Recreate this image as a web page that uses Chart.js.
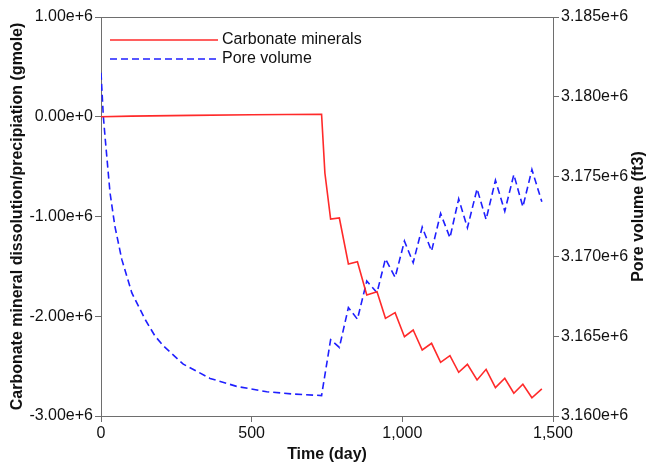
<!DOCTYPE html>
<html>
<head>
<meta charset="utf-8">
<script src="https://cdn.jsdelivr.net/npm/chart.js@4"></script>
<style>
  html, body { margin: 0; padding: 0; background: #fff; }
  #wrap { width: 648px; height: 464px; position: relative; }
</style>
</head>
<body>
<div id="wrap"><canvas id="chartCarb"></canvas></div>
<script>
// carbonate minerals (gmole), left axis
const carbDays = [0, 100, 300, 500, 732, 743, 762, 791, 821, 851, 882, 916, 944, 976, 1007, 1036, 1066, 1097, 1127, 1158, 1187, 1216, 1248, 1278, 1309, 1340, 1370, 1400, 1430, 1463];
const carbValues = [0, 6000, 14000, 20000, 24500, -564000, -1025000, -1015000, -1476000, -1453000, -1787000, -1754000, -2021000, -1964000, -2205000, -2138000, -2338000, -2271000, -2462000, -2395000, -2562000, -2482000, -2639000, -2532000, -2716000, -2622000, -2772000, -2682000, -2817000, -2729000];

// pore volume (ft3), right axis
const poreDays = [0, 7.6, 13.3, 30, 46, 69, 102, 146, 179, 207, 273, 362, 450, 550, 638, 732, 762, 791, 821, 851, 882, 916, 944, 976, 1007, 1036, 1066, 1097, 1127, 1158, 1187, 1216, 1248, 1278, 1309, 1340, 1370, 1400, 1430, 1463];
const poreValues = [3181500, 3178813, 3177519, 3173981, 3171894, 3169813, 3167731, 3166063, 3165019, 3164394, 3163250, 3162356, 3161856, 3161519, 3161375, 3161281, 3164781, 3164294, 3166794, 3166063, 3168456, 3167731, 3169844, 3168688, 3170956, 3169606, 3171831, 3170331, 3172688, 3171169, 3173606, 3171794, 3174231, 3172313, 3174769, 3172831, 3175125, 3173106, 3175438, 3173419];

const xTicks = [0, 500, 1000, 1500];
const rightTitle = "Pore volume (ft3)";

const toPoints = (xs, ys) => xs.map((x, i) => ({ x: x, y: ys[i] }));

const FONT = "'Liberation Sans', Arial, sans-serif";
const AXIS = "#6e6e6e";

// top frame line, legend inside the plot, right title reading bottom-to-top
const frameLegend = {
  id: "frameLegend",
  afterDraw(chart) {
    const { ctx, chartArea: a } = chart;
    ctx.save();
    ctx.strokeStyle = AXIS;
    ctx.lineWidth = 1;
    ctx.beginPath();
    ctx.moveTo(a.left, a.top + 0.5);
    ctx.lineTo(a.right, a.top + 0.5);
    ctx.stroke();

    ctx.font = "16px " + FONT;
    ctx.textBaseline = "middle";
    chart.data.datasets.forEach((ds, i) => {
      const y = 40 + i * 19;
      ctx.strokeStyle = ds.borderColor;
      ctx.lineWidth = ds.borderWidth;
      ctx.setLineDash(ds.borderDash || []);
      ctx.beginPath();
      ctx.moveTo(110, y);
      ctx.lineTo(218, y);
      ctx.stroke();
      ctx.setLineDash([]);
      ctx.fillStyle = "#111";
      ctx.fillText(ds.label, 222, y);
    });

    const yR = chart.scales.yR;
    ctx.translate(yR.right - 9, (a.top + a.bottom) / 2);
    ctx.rotate(-Math.PI / 2);
    ctx.font = "bold 16px " + FONT;
    ctx.textAlign = "center";
    ctx.fillText(rightTitle, 0, 0);
    ctx.restore();
  },
};

document.addEventListener("DOMContentLoaded", () => {
  new Chart(document.querySelector("#chartCarb"), {
    type: "line",
    data: {
      datasets: [
        {
          label: "Carbonate minerals",
          data: toPoints(carbDays, carbValues),
          yAxisID: "yL",
          borderColor: "#ff2a2a",
          borderWidth: 1.6,
          pointRadius: 0,
          tension: 0,
          fill: false,
        },
        {
          label: "Pore volume",
          data: toPoints(poreDays, poreValues),
          yAxisID: "yR",
          borderColor: "#1f1fff",
          borderWidth: 1.6,
          borderDash: [7, 4],
          pointRadius: 0,
          tension: 0,
          fill: false,
        },
      ],
    },
    options: {
      responsive: true,
      maintainAspectRatio: false,
      animation: false,
      layout: { padding: { top: 17, left: 0, right: 0, bottom: 0 } },
      plugins: {
        legend: { display: false },
        tooltip: { enabled: false },
      },
      scales: {
        x: {
          type: "linear",
          min: 0,
          max: 1500,
          afterBuildTicks: (s) => { s.ticks = xTicks.map((v) => ({ value: v })); },
          afterFit: (s) => { s.height = 48; },
          ticks: {
            padding: 2,
            color: "#111",
            font: { family: FONT, size: 16 },
            maxRotation: 0,
            callback: (v) => v.toLocaleString("en-US"),
          },
          grid: { drawOnChartArea: false, tickLength: 6, color: AXIS },
          border: { color: AXIS },
          title: {
            display: true,
            text: "Time (day)",
            color: "#111",
            font: { family: FONT, size: 16, weight: "bold" },
            padding: { top: 0, bottom: 0 },
          },
        },
        yL: {
          position: "left",
          min: -3000000,
          max: 1000000,
          afterFit: (s) => { s.width = 101; },
          ticks: {
            stepSize: 1000000,
            padding: 2,
            color: "#111",
            font: { family: FONT, size: 16 },
            callback: (v) => (v === 0 ? "0.00e+0" : (v / 1e6).toFixed(2) + "e+6"),
          },
          grid: { drawOnChartArea: false, tickLength: 6, color: AXIS },
          border: { color: AXIS },
          title: {
            display: true,
            text: "Carbonate mineral dissolution/precipiation (gmole)",
            color: "#111",
            font: { family: FONT, size: 16, weight: "bold" },
            padding: { top: 8, bottom: 0 },
          },
        },
        yR: {
          position: "right",
          min: 3160000,
          max: 3185000,
          afterFit: (s) => { s.width = 95; },
          ticks: {
            stepSize: 5000,
            padding: 2,
            color: "#111",
            font: { family: FONT, size: 16 },
            callback: (v) => (v / 1e6).toFixed(3) + "e+6",
          },
          grid: { drawOnChartArea: false, tickLength: 6, color: AXIS },
          border: { color: AXIS },
        },
      },
    },
    plugins: [frameLegend],
  });
});
</script>
</body>
</html>
